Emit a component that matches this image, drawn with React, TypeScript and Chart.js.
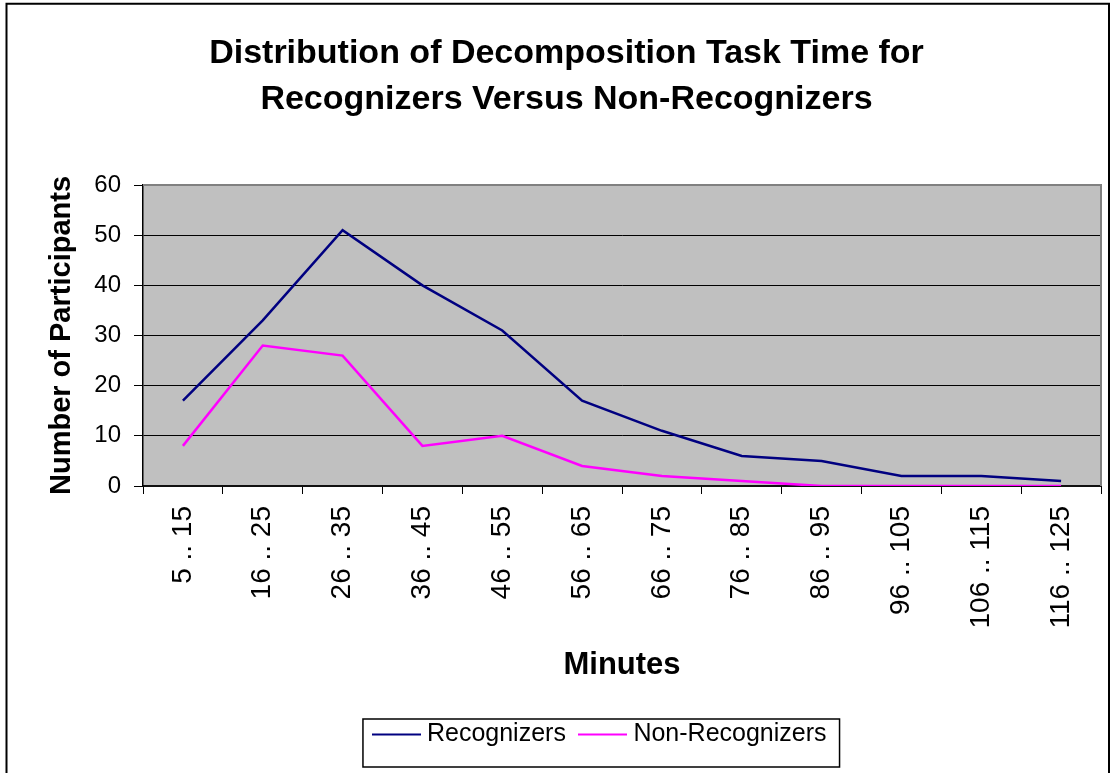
import React, { useEffect, useRef } from "react";
import { Chart, registerables } from "chart.js";

Chart.register(...registerables);

const categories = [
  "5 .. 15",
  "16 .. 25",
  "26 .. 35",
  "36 .. 45",
  "46 .. 55",
  "56 .. 65",
  "66 .. 75",
  "76 .. 85",
  "86 .. 95",
  "96 .. 105",
  "106 .. 115",
  "116 .. 125",
];
const recognizers = [17, 33, 51, 40, 31, 17, 11, 6, 5, 2, 2, 1];
const nonRecognizers = [8, 28, 26, 8, 10, 4, 2, 1, 0, 0, 0, 0];
const yMin = 0;
const yMax = 60;
const yStep = 10;
const titleLines = [
  "Distribution of Decomposition Task Time for",
  "Recognizers Versus Non-Recognizers",
];
const xTitle = "Minutes";
const yTitle = "Number of Participants";
const seriesNames = ["Recognizers", "Non-Recognizers"];
const seriesColors = ["#000080", "#FF00FF"];

const FONT = "'Liberation Sans', Arial, Helvetica, sans-serif";

function legendLine(color: string): HTMLCanvasElement {
  const c = document.createElement("canvas");
  c.width = 49;
  c.height = 3;
  const g = c.getContext("2d");
  if (g) {
    g.fillStyle = color;
    g.fillRect(0, 0.5, 49, 2);
  }
  return c;
}

export default function App() {
  const ref = useRef<HTMLCanvasElement | null>(null);

  useEffect(() => {
    document.body.style.margin = "0";
    const canvas = ref.current;
    if (!canvas) return;

    const plotArea = {
      id: "plotArea",
      beforeDraw(chart: any) {
        const { ctx, chartArea: a } = chart;
        ctx.save();
        ctx.fillStyle = "#FFFFFF";
        ctx.fillRect(0, 0, chart.width, chart.height);
        ctx.fillStyle = "#C0C0C0";
        ctx.fillRect(a.left, a.top, a.right - a.left, a.bottom - a.top);
        ctx.restore();
      },
      beforeDatasetsDraw(chart: any) {
        const { ctx, chartArea: a } = chart;
        ctx.save();
        ctx.strokeStyle = "#808080";
        ctx.lineWidth = 2;
        ctx.beginPath();
        ctx.moveTo(a.left, a.top);
        ctx.lineTo(a.right, a.top);
        ctx.lineTo(a.right, a.bottom);
        ctx.stroke();
        ctx.restore();
      },
    };

    const boxShift = {
      id: "boxShift",
      afterLayout(chart: any) {
        const lg = chart.legend;
        if (lg) {
          lg.left += 52;
          lg.right += 52;
        }
        const tb = chart.titleBlock;
        if (tb) {
          tb.left += 16;
          tb.right += 16;
        }
      },
    };

    const frame = {
      id: "frame",
      afterDraw(chart: any) {
        const { ctx } = chart;
        ctx.save();
        ctx.strokeStyle = "#000000";
        ctx.lineWidth = 2;
        ctx.beginPath();
        ctx.moveTo(6.5, chart.height + 5);
        ctx.lineTo(6.5, 3.7);
        ctx.lineTo(1109, 3.7);
        ctx.lineTo(1109, chart.height + 5);
        ctx.stroke();
        const hb = chart.legend && chart.legend.legendHitBoxes;
        if (hb && hb.length) {
          const first = hb[0];
          const last = hb[hb.length - 1];
          const x0 = first.left - 15.5;
          const x1 = last.left + last.width + 13;
          const y0 = first.top - 3;
          const y1 = first.top + first.height + 20;
          ctx.lineWidth = 1.5;
          ctx.strokeRect(x0, y0, x1 - x0, y1 - y0);
        }
        ctx.restore();
      },
    };

    const chart = new Chart(canvas, {
      type: "line",
      data: {
        labels: categories,
        datasets: [
          {
            label: seriesNames[0],
            data: recognizers,
            borderColor: seriesColors[0],
            backgroundColor: seriesColors[0],
            borderWidth: 2.5,
            pointRadius: 0,
            pointStyle: legendLine(seriesColors[0]),
            tension: 0,
          },
          {
            label: seriesNames[1],
            data: nonRecognizers,
            borderColor: seriesColors[1],
            backgroundColor: seriesColors[1],
            borderWidth: 2.5,
            pointRadius: 0,
            pointStyle: legendLine(seriesColors[1]),
            tension: 0,
          },
        ],
      },
      plugins: [plotArea, boxShift, frame],
      options: {
        responsive: false,
        animation: false,
        devicePixelRatio: 1,
        layout: { padding: { left: 0, right: 11, top: 0, bottom: 16 } },
        font: { family: FONT },
        color: "#000000",
        plugins: {
          tooltip: { enabled: false },
          title: {
            display: true,
            text: titleLines,
            color: "#000000",
            font: { family: FONT, size: 34, weight: "bold", lineHeight: 1.353 },
            padding: { top: 31, bottom: 62 },
          },
          legend: {
            display: true,
            position: "bottom",
            align: "center",
            labels: {
              color: "#000000",
              font: { family: FONT, size: 25 },
              usePointStyle: true,
              pointStyleWidth: 36,
              boxWidth: 36,
              boxHeight: 25,
              padding: 19,
            },
          },
        },
        scales: {
          x: {
            type: "category",
            offset: true,
            grid: {
              display: true,
              drawOnChartArea: false,
              drawTicks: true,
              offset: true,
              tickLength: 8,
              color: "#000000",
              lineWidth: 1,
            },
            border: { display: true, color: "#111111", width: 2 },
            ticks: {
              autoSkip: false,
              minRotation: 90,
              maxRotation: 90,
              padding: 12,
              color: "#000000",
              font: { family: FONT, size: 28 },
            },
            title: {
              display: true,
              text: xTitle,
              color: "#000000",
              font: { family: FONT, size: 31, weight: "bold", lineHeight: 1.2 },
              padding: { top: 0, bottom: 19.4 },
            },
            afterFit(scale: any) {
              scale.height = 217;
            },
          },
          y: {
            min: yMin,
            max: yMax,
            ticks: {
              stepSize: yStep,
              padding: 13,
              color: "#000000",
              font: { family: FONT, size: 24 },
            },
            grid: {
              color: "#000000",
              lineWidth: 1,
              tickLength: 9,
              drawTicks: true,
            },
            border: { display: true, color: "#000000", width: 1.5 },
            title: {
              display: true,
              text: yTitle,
              color: "#000000",
              font: { family: FONT, size: 29, weight: "bold", lineHeight: 1.2 },
              padding: { top: 44.6, bottom: 0 },
            },
            afterFit(scale: any) {
              scale.width = 143;
            },
          },
        },
      },
    } as any);

    return () => {
      chart.destroy();
    };
  }, []);

  return (
    <div style={{ position: "absolute", left: 0, top: 0, width: 1112, height: 773 }}>
      <canvas ref={ref} width={1112} height={773} style={{ display: "block" }} />
    </div>
  );
}
